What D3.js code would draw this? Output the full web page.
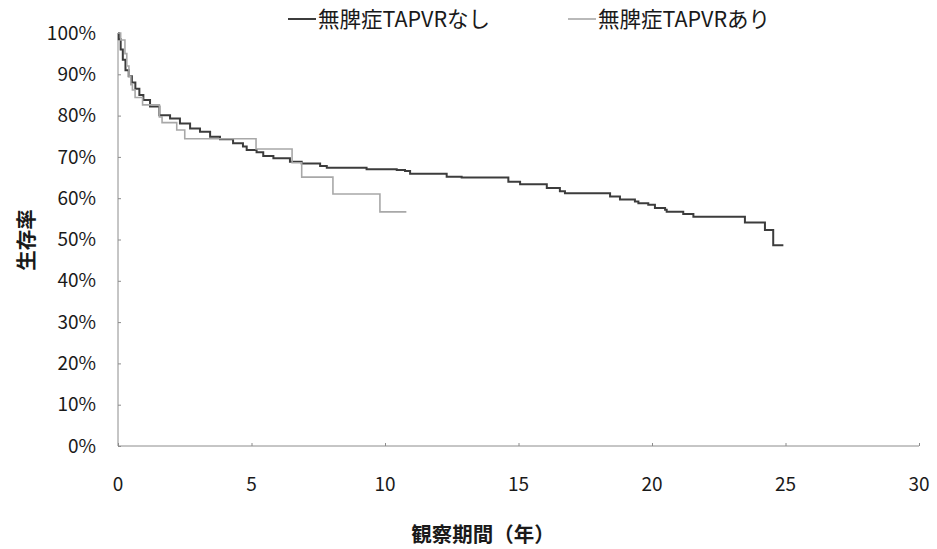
<!DOCTYPE html>
<html>
<head>
<meta charset="utf-8">
<script src="https://cdn.jsdelivr.net/npm/d3@7"></script>
<style>
  html, body { margin: 0; padding: 0; background: #fff; }
  svg { display: block; }
  text { font-family: "Noto Sans CJK JP", "Noto Sans", sans-serif; fill: #1a1a1a; }
</style>
</head>
<body>
<svg id="chart" width="937" height="549"></svg>
<script>
// Series names (legend)
const seriesNames = ["無脾症TAPVRなし", "無脾症TAPVRあり"];

// Kaplan–Meier survival, group without TAPVR: time (years) and survival (%)
const noTapvrTime = [0, 0.03, 0.1, 0.18, 0.28, 0.4, 0.52, 0.65, 0.8, 0.95, 1.2, 1.55, 1.95, 2.32, 2.7, 3.07, 3.45, 3.82, 4.31, 4.68, 4.82, 5.19, 5.44, 5.82, 6.44, 6.88, 7.57, 7.82, 9.31, 10.44, 10.75, 10.94, 12.31, 12.87, 14.62, 15.06, 16.06, 16.55, 16.74, 18.43, 18.80, 19.36, 19.49, 19.86, 20.11, 20.49, 20.55, 21.17, 21.55, 23.48, 24.23, 24.54, 24.92];
const noTapvrSurv = [100, 98.5, 96, 93.5, 91, 89.5, 88, 86.5, 85, 83.8, 82.2, 80.1, 79.3, 78.1, 76.9, 76.1, 74.9, 74.3, 73.3, 72.5, 71.7, 71.1, 70.2, 69.7, 68.8, 68.4, 67.8, 67.4, 67.0, 66.8, 66.6, 65.9, 65.2, 65.0, 64.0, 63.4, 62.5, 61.7, 61.2, 60.4, 59.7, 59.2, 58.8, 58.4, 57.6, 57.2, 56.7, 56.2, 55.5, 54.1, 52.3, 48.6, 48.6];

// Kaplan–Meier survival, group with TAPVR
const tapvrTime = [0, 0.1, 0.26, 0.33, 0.41, 0.48, 0.54, 0.64, 0.92, 1.55, 1.65, 2.2, 2.5, 5.17, 6.52, 6.88, 8.05, 9.81, 10.8];
const tapvrSurv = [100, 98.3, 95, 92, 89.5, 87.5, 86.2, 84.4, 82.6, 79.7, 78.3, 76.5, 74.4, 71.9, 68.6, 65.1, 61.0, 56.7, 56.7];

// Axis ticks
const xTicks = [0, 5, 10, 15, 20, 25, 30];
const yTicks = [0, 10, 20, 30, 40, 50, 60, 70, 80, 90, 100];
const yTickLabels = yTicks.map(v => v + "%");

const xTitle = "観察期間（年）";
const yTitle = "生存率";

const svg = d3.select("#chart");
svg.append("rect").attr("width", 937).attr("height", 549).attr("fill", "#fff");

const x = d3.scaleLinear().domain([0, 30]).range([118, 919]);
const y = d3.scaleLinear().domain([0, 100]).range([446, 33]);

const axisColor = "#8c8c8c";

// Y axis: line with inward ticks
const yAxis = d3.axisLeft(y).tickValues(yTicks).tickSize(-3).tickFormat("");
svg.append("g").attr("transform", `translate(${x(0)},0)`).call(yAxis)
  .call(g => g.select(".domain").attr("stroke", axisColor).attr("d", `M0,${y(100)}V${y(0)}`))
  .call(g => g.selectAll(".tick line").attr("stroke", axisColor));

// X axis: line with inward ticks
const xAxis = d3.axisBottom(x).tickValues(xTicks).tickSize(-3).tickFormat("");
svg.append("g").attr("transform", `translate(0,${y(0)})`).call(xAxis)
  .call(g => g.select(".domain").attr("stroke", axisColor).attr("d", `M${x(0)},0H${x(30)}`))
  .call(g => g.selectAll(".tick line").attr("stroke", axisColor));

// Tick labels
svg.append("g").selectAll("text").data(yTicks).join("text")
  .attr("x", 96).attr("y", d => y(d)).attr("dy", "0.35em")
  .attr("text-anchor", "end").attr("font-size", 19)
  .text((d, i) => yTickLabels[i]);

svg.append("g").selectAll("text").data(xTicks).join("text")
  .attr("x", d => x(d)).attr("y", 484).attr("dy", "0.35em")
  .attr("text-anchor", "middle").attr("font-size", 19)
  .text(d => d);

// Axis titles
svg.append("text").attr("x", 483).attr("y", 535).attr("dy", "0.35em")
  .attr("text-anchor", "middle").attr("font-size", 20.5).attr("font-weight", "bold")
  .text(xTitle);
svg.append("text").attr("transform", "translate(27,240) rotate(-90)").attr("dy", "0.35em")
  .attr("text-anchor", "middle").attr("font-size", 20.5).attr("font-weight", "bold")
  .text(yTitle);

// Survival curves as step functions
const line = d3.line().x(d => x(d[0])).y(d => y(d[1])).curve(d3.curveStepAfter);
const series = [
  { name: seriesNames[0], pts: d3.zip(noTapvrTime, noTapvrSurv), color: "#3c3c3c", width: 2 },
  { name: seriesNames[1], pts: d3.zip(tapvrTime, tapvrSurv), color: "#a8a8a8", width: 1.6 }
];
series.forEach(s => {
  svg.append("path").datum(s.pts).attr("d", line)
    .attr("fill", "none").attr("stroke", s.color).attr("stroke-width", s.width);
});

// Legend
const legendX = [288, 568];
series.forEach((s, i) => {
  const g = svg.append("g").attr("transform", `translate(${legendX[i]},19)`);
  g.append("line").attr("x1", 0).attr("x2", 28).attr("y1", 0).attr("y2", 0)
    .attr("stroke", s.color).attr("stroke-width", s.width);
  g.append("text").attr("x", 30).attr("y", 0).attr("dy", "0.35em")
    .attr("font-size", 21.5).text(s.name);
});
</script>
</body>
</html>
